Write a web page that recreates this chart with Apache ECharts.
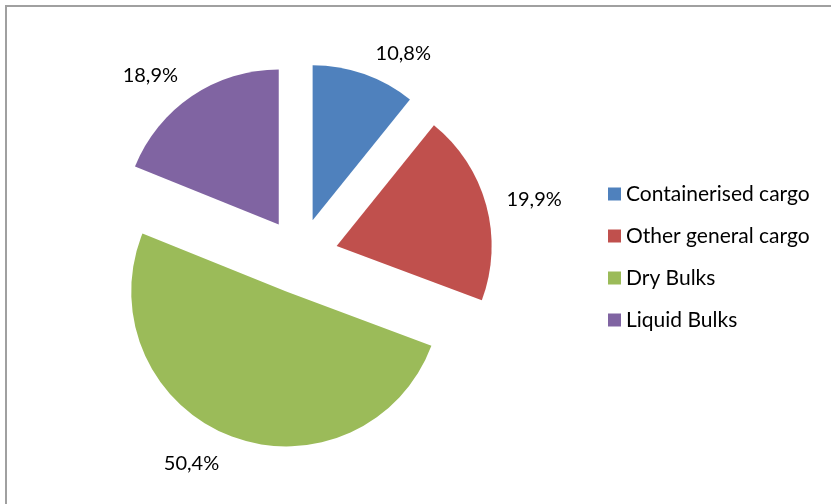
<!DOCTYPE html>
<html>
<head>
<meta charset="utf-8">
<script src="https://cdn.jsdelivr.net/npm/echarts@6/dist/echarts.min.js"></script>
<style>
  html, body { margin: 0; padding: 0; background: #ffffff; }
  #chart { width: 831px; height: 504px; }
</style>
</head>
<body>
<div id="chart"></div>
<script>
// Cargo throughput by category (share of total, %)
const categories = ['Containerised cargo', 'Other general cargo', 'Dry Bulks', 'Liquid Bulks'];
const shares = [10.8, 19.9, 50.4, 18.9];
const colors = ['#4F81BD', '#C0504D', '#9BBB59', '#8064A2'];

const FONT = 'Lato, "Open Sans", sans-serif';

// how far each percentage label sits beyond its exploded slice
const labelReach = [22, 21, 30, 25];
const labelShift = [4, 0, 0, 0];

const chart = echarts.init(document.getElementById('chart'), null, { renderer: 'canvas' });

const pieData = categories.map((name, i) => ({
  name: name,
  value: shares[i],
  selected: true,
  itemStyle: { color: colors[i] },
  labelLine: { show: false, length: labelReach[i], length2: labelShift[i] }
}));

chart.setOption({
  animation: false,
  backgroundColor: '#ffffff',
  graphic: [{
    type: 'rect',
    shape: { x: 6, y: 6, width: 840, height: 520 },
    style: { fill: 'none', stroke: '#a0a0a0', lineWidth: 2 },
    silent: true
  }],
  legend: {
    orient: 'vertical',
    left: 608,
    top: 183,
    padding: 0,
    itemWidth: 13,
    itemHeight: 13,
    itemGap: 20,
    icon: 'rect',
    selectedMode: false,
    textStyle: {
      fontFamily: FONT,
      fontSize: 21,
      color: '#000000',
      lineHeight: 22
    },
    data: categories
  },
  series: [{
    type: 'pie',
    center: [300, 256],
    radius: 155,
    startAngle: 90,
    clockwise: true,
    selectedMode: 'multiple',
    selectedOffset: 38,
    avoidLabelOverlap: false,
    emphasis: { disabled: true },
    select: { itemStyle: {} },
    label: {
      show: true,
      position: 'outside',
      fontFamily: FONT,
      fontSize: 20,
      color: '#000000',
      distanceToLabelLine: 0,
      formatter: p => p.value.toFixed(1).replace('.', ',') + '%'
    },
    labelLine: { show: false, length: 22, length2: 0 },
    data: pieData
  }]
});
</script>
</body>
</html>
